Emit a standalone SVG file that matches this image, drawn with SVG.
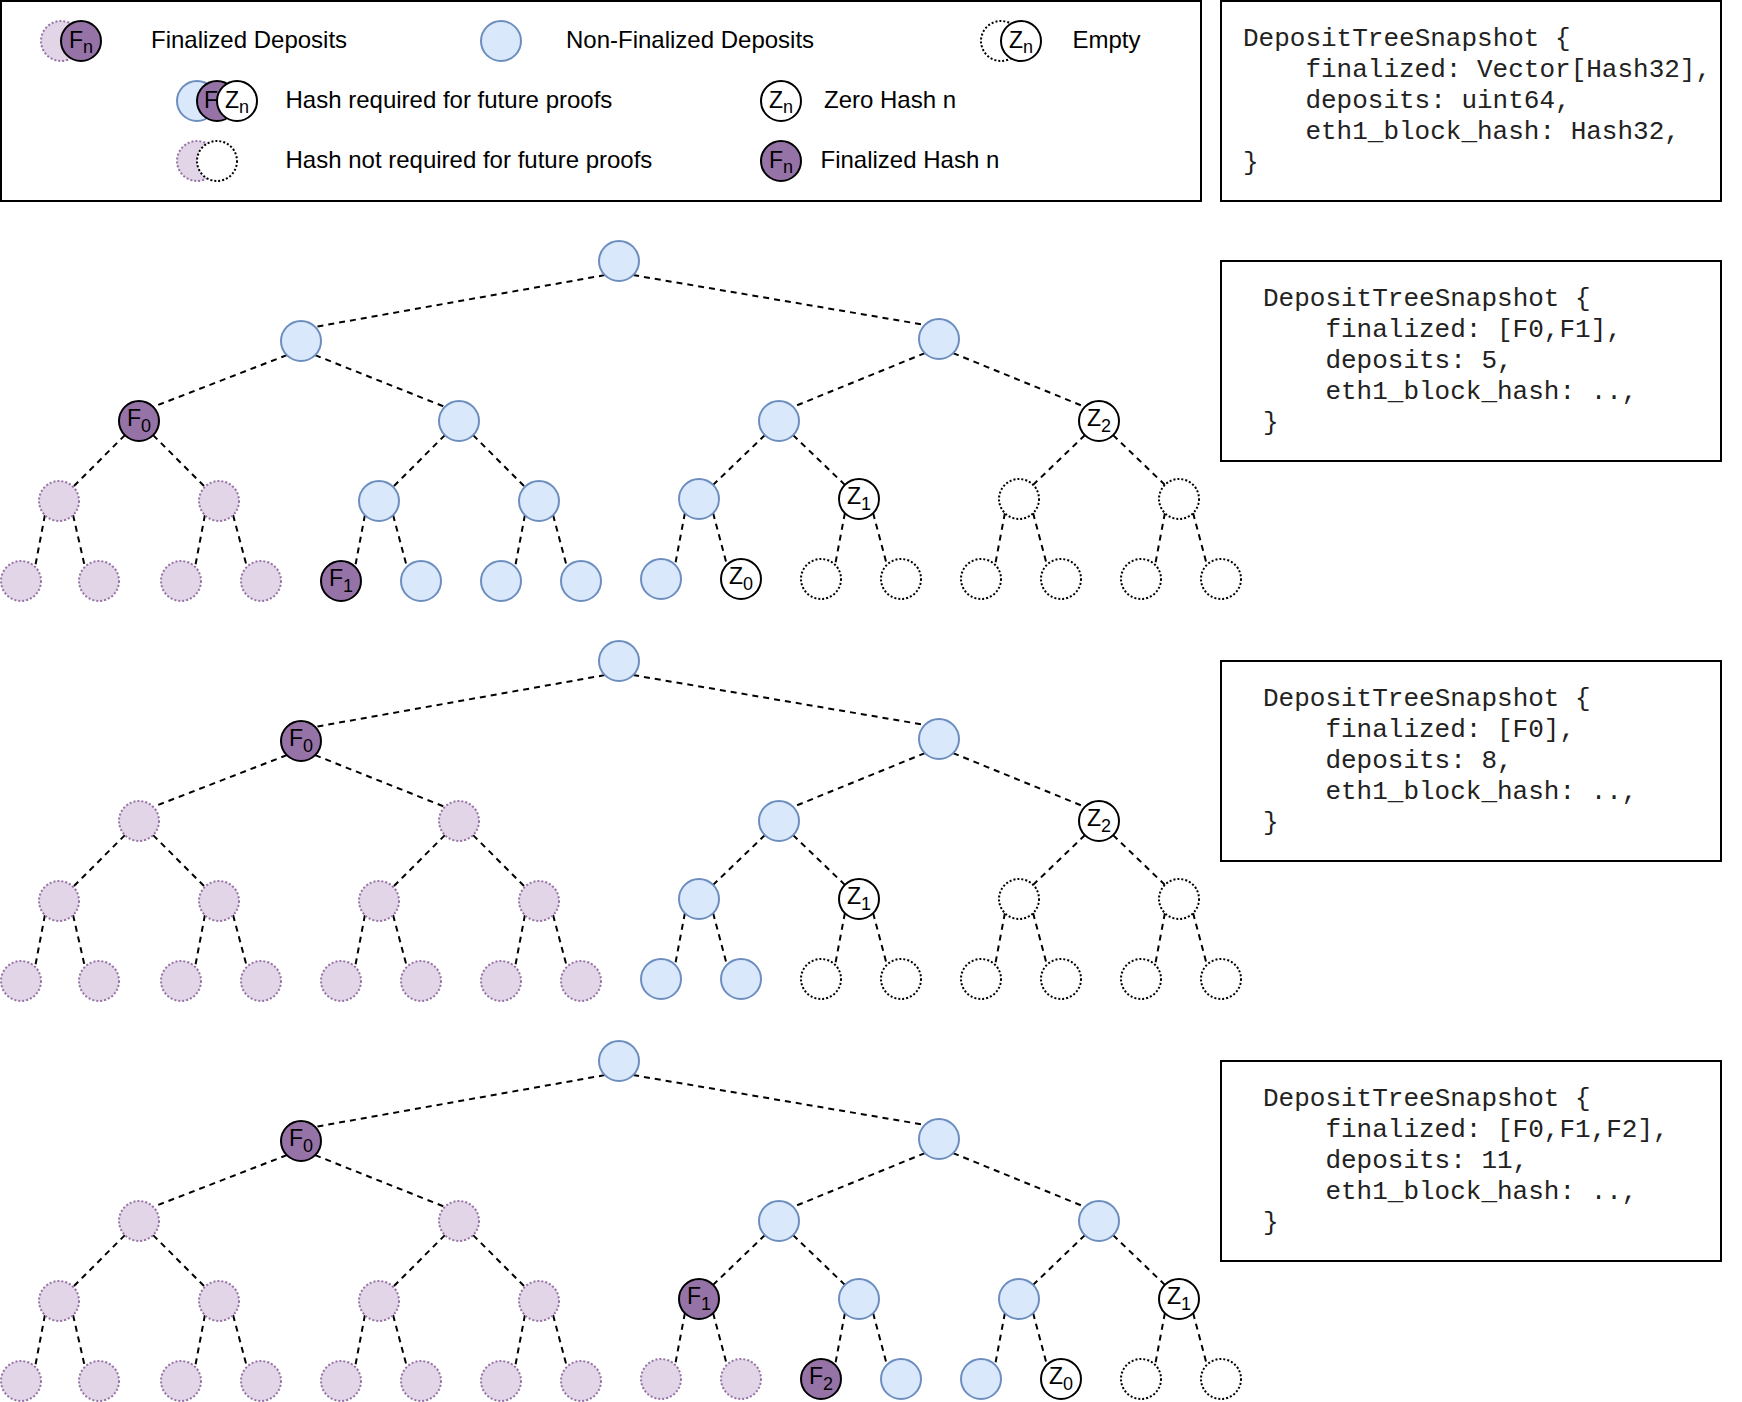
<svg xmlns="http://www.w3.org/2000/svg" width="1742" height="1402" viewBox="0 0 1742 1402">
<style>
.bg{fill:#fff}
.box{fill:#fff;stroke:#000;stroke-width:2}
.blue{fill:#dae8fc;stroke:#6c8ebf;stroke-width:2}
.fin{fill:#9673a6;stroke:#000;stroke-width:2}
.old{fill:#e1d5e7;stroke:#9673a6;stroke-width:2;stroke-dasharray:2 2}
.empty{fill:#fff;stroke:#000;stroke-width:2;stroke-dasharray:2 2}
.zero{fill:#fff;stroke:#000;stroke-width:2}
.edge{stroke:#000;stroke-width:2;stroke-dasharray:6 5;fill:none}
.lbl{font-family:"Liberation Sans",Arial,sans-serif;font-size:23px;text-anchor:middle;fill:#000}
.sub{font-size:18px}
.leg{font-family:"Liberation Sans",Arial,sans-serif;font-size:24px;fill:#000}
.code{font-family:"Liberation Mono","Courier New",monospace;font-size:26px;fill:#222}
</style>
<rect class="bg" x="0" y="0" width="1742" height="1402"/>

<!-- Legend -->
<g id="legend">
  <rect class="box" x="1" y="1" width="1200" height="200"/>
  <g id="legend-finalized-deposits">
    <circle class="old" cx="61" cy="41" r="20"/>
    <circle class="fin" cx="81" cy="41" r="20"/>
    <text class="lbl" x="81" y="48">F<tspan class="sub" dy="5">n</tspan></text>
    <text class="leg" x="151" y="48.3">Finalized Deposits</text>
  </g>
  <g id="legend-non-finalized">
    <circle class="blue" cx="501" cy="41" r="20"/>
    <text class="leg" x="566" y="48.3">Non-Finalized Deposits</text>
  </g>
  <g id="legend-empty">
    <circle class="empty" cx="1001" cy="41" r="20"/>
    <circle class="zero" cx="1021" cy="41" r="20"/>
    <text class="lbl" x="1021" y="47.5">Z<tspan class="sub" dy="5">n</tspan></text>
    <text class="leg" x="1072.5" y="48.3">Empty</text>
  </g>
  <g id="legend-required">
    <circle class="blue" cx="197" cy="101" r="20"/>
    <circle class="fin" cx="217" cy="101" r="20"/>
    <text class="lbl" x="211" y="108">F</text>
    <circle class="zero" cx="237" cy="101" r="20"/>
    <text class="lbl" x="237" y="107.5">Z<tspan class="sub" dy="5">n</tspan></text>
    <text class="leg" x="285.5" y="108.3">Hash required for future proofs</text>
  </g>
  <g id="legend-zero-hash">
    <circle class="zero" cx="781" cy="101" r="20"/>
    <text class="lbl" x="781" y="107.5">Z<tspan class="sub" dy="5">n</tspan></text>
    <text class="leg" x="824" y="108.3">Zero Hash n</text>
  </g>
  <g id="legend-not-required">
    <circle class="old" cx="197" cy="161" r="20"/>
    <circle class="empty" cx="217" cy="161" r="20"/>
    <text class="leg" x="285.5" y="168.3">Hash not required for future proofs</text>
  </g>
  <g id="legend-finalized-hash">
    <circle class="fin" cx="781" cy="161" r="20"/>
    <text class="lbl" x="781" y="167.5">F<tspan class="sub" dy="5.5">n</tspan></text>
    <text class="leg" x="820.5" y="168.3">Finalized Hash n</text>
  </g>
</g>

<!-- Code boxes -->
<g id="snapshot-type">
  <rect class="box" x="1221" y="1" width="500" height="200"/>
  <text class="code" x="1243" y="45.5">DepositTreeSnapshot {</text>
  <text class="code" x="1305.4" y="76.5">finalized: Vector[Hash32],</text>
  <text class="code" x="1305.4" y="107.5">deposits: uint64,</text>
  <text class="code" x="1305.4" y="138.5">eth1_block_hash: Hash32,</text>
  <text class="code" x="1243" y="169.5">}</text>
</g>
<g id="snapshot-1">
  <rect class="box" x="1221" y="261" width="500" height="200"/>
  <text class="code" x="1263" y="306">DepositTreeSnapshot {</text>
  <text class="code" x="1325.4" y="337">finalized: [F0,F1],</text>
  <text class="code" x="1325.4" y="368">deposits: 5,</text>
  <text class="code" x="1325.4" y="399">eth1_block_hash: ..,</text>
  <text class="code" x="1263" y="430">}</text>
</g>
<g id="snapshot-2">
  <rect class="box" x="1221" y="661" width="500" height="200"/>
  <text class="code" x="1263" y="706">DepositTreeSnapshot {</text>
  <text class="code" x="1325.4" y="737">finalized: [F0],</text>
  <text class="code" x="1325.4" y="768">deposits: 8,</text>
  <text class="code" x="1325.4" y="799">eth1_block_hash: ..,</text>
  <text class="code" x="1263" y="830">}</text>
</g>
<g id="snapshot-3">
  <rect class="box" x="1221" y="1061" width="500" height="200"/>
  <text class="code" x="1263" y="1106">DepositTreeSnapshot {</text>
  <text class="code" x="1325.4" y="1137">finalized: [F0,F1,F2],</text>
  <text class="code" x="1325.4" y="1168">deposits: 11,</text>
  <text class="code" x="1325.4" y="1199">eth1_block_hash: ..,</text>
  <text class="code" x="1263" y="1230">}</text>
</g>

<!-- Connectors -->
<g id="connectors">
  <g id="edges-tree1">
    <line class="edge" x1="604.9" y1="275.1" x2="315.1" y2="326.9"/>
    <line class="edge" x1="633.1" y1="275.1" x2="924.9" y2="324.9"/>
    <line class="edge" x1="286.9" y1="355.1" x2="153.1" y2="406.9"/>
    <line class="edge" x1="315.1" y1="355.1" x2="444.9" y2="406.9"/>
    <line class="edge" x1="924.9" y1="353.1" x2="793.1" y2="406.9"/>
    <line class="edge" x1="953.1" y1="353.1" x2="1084.9" y2="406.9"/>
    <line class="edge" x1="124.9" y1="435.1" x2="73.1" y2="486.9"/>
    <line class="edge" x1="153.1" y1="435.1" x2="204.9" y2="486.9"/>
    <line class="edge" x1="444.9" y1="435.1" x2="393.1" y2="486.9"/>
    <line class="edge" x1="473.1" y1="435.1" x2="524.9" y2="486.9"/>
    <line class="edge" x1="764.9" y1="435.1" x2="713.1" y2="484.9"/>
    <line class="edge" x1="793.1" y1="435.1" x2="844.9" y2="484.9"/>
    <line class="edge" x1="1084.9" y1="435.1" x2="1033.1" y2="484.9"/>
    <line class="edge" x1="1113.1" y1="435.1" x2="1164.9" y2="484.9"/>
    <line class="edge" x1="44.9" y1="515.1" x2="35.1" y2="566.9"/>
    <line class="edge" x1="73.1" y1="515.1" x2="84.9" y2="566.9"/>
    <line class="edge" x1="204.9" y1="515.1" x2="195.1" y2="566.9"/>
    <line class="edge" x1="233.1" y1="515.1" x2="246.9" y2="566.9"/>
    <line class="edge" x1="364.9" y1="515.1" x2="355.1" y2="566.9"/>
    <line class="edge" x1="393.1" y1="515.1" x2="406.9" y2="566.9"/>
    <line class="edge" x1="524.9" y1="515.1" x2="515.1" y2="566.9"/>
    <line class="edge" x1="553.1" y1="515.1" x2="566.9" y2="566.9"/>
    <line class="edge" x1="684.9" y1="513.1" x2="675.1" y2="564.9"/>
    <line class="edge" x1="713.1" y1="513.1" x2="726.9" y2="564.9"/>
    <line class="edge" x1="844.9" y1="513.1" x2="835.1" y2="564.9"/>
    <line class="edge" x1="873.1" y1="513.1" x2="886.9" y2="564.9"/>
    <line class="edge" x1="1004.9" y1="513.1" x2="995.1" y2="564.9"/>
    <line class="edge" x1="1033.1" y1="513.1" x2="1046.9" y2="564.9"/>
    <line class="edge" x1="1164.9" y1="513.1" x2="1155.1" y2="564.9"/>
    <line class="edge" x1="1193.1" y1="513.1" x2="1206.9" y2="564.9"/>
  </g>
  <g id="edges-tree2" transform="translate(0,400)">
    <line class="edge" x1="604.9" y1="275.1" x2="315.1" y2="326.9"/>
    <line class="edge" x1="633.1" y1="275.1" x2="924.9" y2="324.9"/>
    <line class="edge" x1="286.9" y1="355.1" x2="153.1" y2="406.9"/>
    <line class="edge" x1="315.1" y1="355.1" x2="444.9" y2="406.9"/>
    <line class="edge" x1="924.9" y1="353.1" x2="793.1" y2="406.9"/>
    <line class="edge" x1="953.1" y1="353.1" x2="1084.9" y2="406.9"/>
    <line class="edge" x1="124.9" y1="435.1" x2="73.1" y2="486.9"/>
    <line class="edge" x1="153.1" y1="435.1" x2="204.9" y2="486.9"/>
    <line class="edge" x1="444.9" y1="435.1" x2="393.1" y2="486.9"/>
    <line class="edge" x1="473.1" y1="435.1" x2="524.9" y2="486.9"/>
    <line class="edge" x1="764.9" y1="435.1" x2="713.1" y2="484.9"/>
    <line class="edge" x1="793.1" y1="435.1" x2="844.9" y2="484.9"/>
    <line class="edge" x1="1084.9" y1="435.1" x2="1033.1" y2="484.9"/>
    <line class="edge" x1="1113.1" y1="435.1" x2="1164.9" y2="484.9"/>
    <line class="edge" x1="44.9" y1="515.1" x2="35.1" y2="566.9"/>
    <line class="edge" x1="73.1" y1="515.1" x2="84.9" y2="566.9"/>
    <line class="edge" x1="204.9" y1="515.1" x2="195.1" y2="566.9"/>
    <line class="edge" x1="233.1" y1="515.1" x2="246.9" y2="566.9"/>
    <line class="edge" x1="364.9" y1="515.1" x2="355.1" y2="566.9"/>
    <line class="edge" x1="393.1" y1="515.1" x2="406.9" y2="566.9"/>
    <line class="edge" x1="524.9" y1="515.1" x2="515.1" y2="566.9"/>
    <line class="edge" x1="553.1" y1="515.1" x2="566.9" y2="566.9"/>
    <line class="edge" x1="684.9" y1="513.1" x2="675.1" y2="564.9"/>
    <line class="edge" x1="713.1" y1="513.1" x2="726.9" y2="564.9"/>
    <line class="edge" x1="844.9" y1="513.1" x2="835.1" y2="564.9"/>
    <line class="edge" x1="873.1" y1="513.1" x2="886.9" y2="564.9"/>
    <line class="edge" x1="1004.9" y1="513.1" x2="995.1" y2="564.9"/>
    <line class="edge" x1="1033.1" y1="513.1" x2="1046.9" y2="564.9"/>
    <line class="edge" x1="1164.9" y1="513.1" x2="1155.1" y2="564.9"/>
    <line class="edge" x1="1193.1" y1="513.1" x2="1206.9" y2="564.9"/>
  </g>
  <g id="edges-tree3" transform="translate(0,800)">
    <line class="edge" x1="604.9" y1="275.1" x2="315.1" y2="326.9"/>
    <line class="edge" x1="633.1" y1="275.1" x2="924.9" y2="324.9"/>
    <line class="edge" x1="286.9" y1="355.1" x2="153.1" y2="406.9"/>
    <line class="edge" x1="315.1" y1="355.1" x2="444.9" y2="406.9"/>
    <line class="edge" x1="924.9" y1="353.1" x2="793.1" y2="406.9"/>
    <line class="edge" x1="953.1" y1="353.1" x2="1084.9" y2="406.9"/>
    <line class="edge" x1="124.9" y1="435.1" x2="73.1" y2="486.9"/>
    <line class="edge" x1="153.1" y1="435.1" x2="204.9" y2="486.9"/>
    <line class="edge" x1="444.9" y1="435.1" x2="393.1" y2="486.9"/>
    <line class="edge" x1="473.1" y1="435.1" x2="524.9" y2="486.9"/>
    <line class="edge" x1="764.9" y1="435.1" x2="713.1" y2="484.9"/>
    <line class="edge" x1="793.1" y1="435.1" x2="844.9" y2="484.9"/>
    <line class="edge" x1="1084.9" y1="435.1" x2="1033.1" y2="484.9"/>
    <line class="edge" x1="1113.1" y1="435.1" x2="1164.9" y2="484.9"/>
    <line class="edge" x1="44.9" y1="515.1" x2="35.1" y2="566.9"/>
    <line class="edge" x1="73.1" y1="515.1" x2="84.9" y2="566.9"/>
    <line class="edge" x1="204.9" y1="515.1" x2="195.1" y2="566.9"/>
    <line class="edge" x1="233.1" y1="515.1" x2="246.9" y2="566.9"/>
    <line class="edge" x1="364.9" y1="515.1" x2="355.1" y2="566.9"/>
    <line class="edge" x1="393.1" y1="515.1" x2="406.9" y2="566.9"/>
    <line class="edge" x1="524.9" y1="515.1" x2="515.1" y2="566.9"/>
    <line class="edge" x1="553.1" y1="515.1" x2="566.9" y2="566.9"/>
    <line class="edge" x1="684.9" y1="513.1" x2="675.1" y2="564.9"/>
    <line class="edge" x1="713.1" y1="513.1" x2="726.9" y2="564.9"/>
    <line class="edge" x1="844.9" y1="513.1" x2="835.1" y2="564.9"/>
    <line class="edge" x1="873.1" y1="513.1" x2="886.9" y2="564.9"/>
    <line class="edge" x1="1004.9" y1="513.1" x2="995.1" y2="564.9"/>
    <line class="edge" x1="1033.1" y1="513.1" x2="1046.9" y2="564.9"/>
    <line class="edge" x1="1164.9" y1="513.1" x2="1155.1" y2="564.9"/>
    <line class="edge" x1="1193.1" y1="513.1" x2="1206.9" y2="564.9"/>
  </g>
</g>

<!-- Tree 1 -->
<g id="tree1">
  <g id="t1-root"><circle class="blue" cx="619" cy="261" r="20"/></g>
  <g id="t1-l1a"><circle class="blue" cx="301" cy="341" r="20"/></g>
  <g id="t1-l1b"><circle class="blue" cx="939" cy="339" r="20"/></g>
  <g id="t1-l2a"><circle class="fin" cx="139" cy="421" r="20"/><text class="lbl" x="139" y="425.5">F<tspan class="sub" dy="6.5">0</tspan></text></g>
  <g id="t1-l2b"><circle class="blue" cx="459" cy="421" r="20"/></g>
  <g id="t1-l2c"><circle class="blue" cx="779" cy="421" r="20"/></g>
  <g id="t1-l2d"><circle class="zero" cx="1099" cy="421" r="20"/><text class="lbl" x="1099" y="425.5">Z<tspan class="sub" dy="6.5">2</tspan></text></g>
  <g id="t1-l3a"><circle class="old" cx="59" cy="501" r="20"/></g>
  <g id="t1-l3b"><circle class="old" cx="219" cy="501" r="20"/></g>
  <g id="t1-l3c"><circle class="blue" cx="379" cy="501" r="20"/></g>
  <g id="t1-l3d"><circle class="blue" cx="539" cy="501" r="20"/></g>
  <g id="t1-l3e"><circle class="blue" cx="699" cy="499" r="20"/></g>
  <g id="t1-l3f"><circle class="zero" cx="859" cy="499" r="20"/><text class="lbl" x="859" y="503.5">Z<tspan class="sub" dy="6.5">1</tspan></text></g>
  <g id="t1-l3g"><circle class="empty" cx="1019" cy="499" r="20"/></g>
  <g id="t1-l3h"><circle class="empty" cx="1179" cy="499" r="20"/></g>
  <g id="t1-leaf1"><circle class="old" cx="21" cy="581" r="20"/></g>
  <g id="t1-leaf2"><circle class="old" cx="99" cy="581" r="20"/></g>
  <g id="t1-leaf3"><circle class="old" cx="181" cy="581" r="20"/></g>
  <g id="t1-leaf4"><circle class="old" cx="261" cy="581" r="20"/></g>
  <g id="t1-leaf5"><circle class="fin" cx="341" cy="581" r="20"/><text class="lbl" x="341" y="585.5">F<tspan class="sub" dy="6.5">1</tspan></text></g>
  <g id="t1-leaf6"><circle class="blue" cx="421" cy="581" r="20"/></g>
  <g id="t1-leaf7"><circle class="blue" cx="501" cy="581" r="20"/></g>
  <g id="t1-leaf8"><circle class="blue" cx="581" cy="581" r="20"/></g>
  <g id="t1-leaf9"><circle class="blue" cx="661" cy="579" r="20"/></g>
  <g id="t1-leaf10"><circle class="zero" cx="741" cy="579" r="20"/><text class="lbl" x="741" y="583.5">Z<tspan class="sub" dy="6.5">0</tspan></text></g>
  <g id="t1-leaf11"><circle class="empty" cx="821" cy="579" r="20"/></g>
  <g id="t1-leaf12"><circle class="empty" cx="901" cy="579" r="20"/></g>
  <g id="t1-leaf13"><circle class="empty" cx="981" cy="579" r="20"/></g>
  <g id="t1-leaf14"><circle class="empty" cx="1061" cy="579" r="20"/></g>
  <g id="t1-leaf15"><circle class="empty" cx="1141" cy="579" r="20"/></g>
  <g id="t1-leaf16"><circle class="empty" cx="1221" cy="579" r="20"/></g>
</g>

<!-- Tree 2 -->
<g id="tree2">
  <g id="t2-root"><circle class="blue" cx="619" cy="661" r="20"/></g>
  <g id="t2-l1a"><circle class="fin" cx="301" cy="741" r="20"/><text class="lbl" x="301" y="745.5">F<tspan class="sub" dy="6.5">0</tspan></text></g>
  <g id="t2-l1b"><circle class="blue" cx="939" cy="739" r="20"/></g>
  <g id="t2-l2a"><circle class="old" cx="139" cy="821" r="20"/></g>
  <g id="t2-l2b"><circle class="old" cx="459" cy="821" r="20"/></g>
  <g id="t2-l2c"><circle class="blue" cx="779" cy="821" r="20"/></g>
  <g id="t2-l2d"><circle class="zero" cx="1099" cy="821" r="20"/><text class="lbl" x="1099" y="825.5">Z<tspan class="sub" dy="6.5">2</tspan></text></g>
  <g id="t2-l3a"><circle class="old" cx="59" cy="901" r="20"/></g>
  <g id="t2-l3b"><circle class="old" cx="219" cy="901" r="20"/></g>
  <g id="t2-l3c"><circle class="old" cx="379" cy="901" r="20"/></g>
  <g id="t2-l3d"><circle class="old" cx="539" cy="901" r="20"/></g>
  <g id="t2-l3e"><circle class="blue" cx="699" cy="899" r="20"/></g>
  <g id="t2-l3f"><circle class="zero" cx="859" cy="899" r="20"/><text class="lbl" x="859" y="903.5">Z<tspan class="sub" dy="6.5">1</tspan></text></g>
  <g id="t2-l3g"><circle class="empty" cx="1019" cy="899" r="20"/></g>
  <g id="t2-l3h"><circle class="empty" cx="1179" cy="899" r="20"/></g>
  <g id="t2-leaf1"><circle class="old" cx="21" cy="981" r="20"/></g>
  <g id="t2-leaf2"><circle class="old" cx="99" cy="981" r="20"/></g>
  <g id="t2-leaf3"><circle class="old" cx="181" cy="981" r="20"/></g>
  <g id="t2-leaf4"><circle class="old" cx="261" cy="981" r="20"/></g>
  <g id="t2-leaf5"><circle class="old" cx="341" cy="981" r="20"/></g>
  <g id="t2-leaf6"><circle class="old" cx="421" cy="981" r="20"/></g>
  <g id="t2-leaf7"><circle class="old" cx="501" cy="981" r="20"/></g>
  <g id="t2-leaf8"><circle class="old" cx="581" cy="981" r="20"/></g>
  <g id="t2-leaf9"><circle class="blue" cx="661" cy="979" r="20"/></g>
  <g id="t2-leaf10"><circle class="blue" cx="741" cy="979" r="20"/></g>
  <g id="t2-leaf11"><circle class="empty" cx="821" cy="979" r="20"/></g>
  <g id="t2-leaf12"><circle class="empty" cx="901" cy="979" r="20"/></g>
  <g id="t2-leaf13"><circle class="empty" cx="981" cy="979" r="20"/></g>
  <g id="t2-leaf14"><circle class="empty" cx="1061" cy="979" r="20"/></g>
  <g id="t2-leaf15"><circle class="empty" cx="1141" cy="979" r="20"/></g>
  <g id="t2-leaf16"><circle class="empty" cx="1221" cy="979" r="20"/></g>
</g>

<!-- Tree 3 -->
<g id="tree3">
  <g id="t3-root"><circle class="blue" cx="619" cy="1061" r="20"/></g>
  <g id="t3-l1a"><circle class="fin" cx="301" cy="1141" r="20"/><text class="lbl" x="301" y="1145.5">F<tspan class="sub" dy="6.5">0</tspan></text></g>
  <g id="t3-l1b"><circle class="blue" cx="939" cy="1139" r="20"/></g>
  <g id="t3-l2a"><circle class="old" cx="139" cy="1221" r="20"/></g>
  <g id="t3-l2b"><circle class="old" cx="459" cy="1221" r="20"/></g>
  <g id="t3-l2c"><circle class="blue" cx="779" cy="1221" r="20"/></g>
  <g id="t3-l2d"><circle class="blue" cx="1099" cy="1221" r="20"/></g>
  <g id="t3-l3a"><circle class="old" cx="59" cy="1301" r="20"/></g>
  <g id="t3-l3b"><circle class="old" cx="219" cy="1301" r="20"/></g>
  <g id="t3-l3c"><circle class="old" cx="379" cy="1301" r="20"/></g>
  <g id="t3-l3d"><circle class="old" cx="539" cy="1301" r="20"/></g>
  <g id="t3-l3e"><circle class="fin" cx="699" cy="1299" r="20"/><text class="lbl" x="699" y="1303.5">F<tspan class="sub" dy="6.5">1</tspan></text></g>
  <g id="t3-l3f"><circle class="blue" cx="859" cy="1299" r="20"/></g>
  <g id="t3-l3g"><circle class="blue" cx="1019" cy="1299" r="20"/></g>
  <g id="t3-l3h"><circle class="zero" cx="1179" cy="1299" r="20"/><text class="lbl" x="1179" y="1303.5">Z<tspan class="sub" dy="6.5">1</tspan></text></g>
  <g id="t3-leaf1"><circle class="old" cx="21" cy="1381" r="20"/></g>
  <g id="t3-leaf2"><circle class="old" cx="99" cy="1381" r="20"/></g>
  <g id="t3-leaf3"><circle class="old" cx="181" cy="1381" r="20"/></g>
  <g id="t3-leaf4"><circle class="old" cx="261" cy="1381" r="20"/></g>
  <g id="t3-leaf5"><circle class="old" cx="341" cy="1381" r="20"/></g>
  <g id="t3-leaf6"><circle class="old" cx="421" cy="1381" r="20"/></g>
  <g id="t3-leaf7"><circle class="old" cx="501" cy="1381" r="20"/></g>
  <g id="t3-leaf8"><circle class="old" cx="581" cy="1381" r="20"/></g>
  <g id="t3-leaf9"><circle class="old" cx="661" cy="1379" r="20"/></g>
  <g id="t3-leaf10"><circle class="old" cx="741" cy="1379" r="20"/></g>
  <g id="t3-leaf11"><circle class="fin" cx="821" cy="1379" r="20"/><text class="lbl" x="821" y="1383.5">F<tspan class="sub" dy="6.5">2</tspan></text></g>
  <g id="t3-leaf12"><circle class="blue" cx="901" cy="1379" r="20"/></g>
  <g id="t3-leaf13"><circle class="blue" cx="981" cy="1379" r="20"/></g>
  <g id="t3-leaf14"><circle class="zero" cx="1061" cy="1379" r="20"/><text class="lbl" x="1061" y="1383.5">Z<tspan class="sub" dy="6.5">0</tspan></text></g>
  <g id="t3-leaf15"><circle class="empty" cx="1141" cy="1379" r="20"/></g>
  <g id="t3-leaf16"><circle class="empty" cx="1221" cy="1379" r="20"/></g>
</g>
</svg>
